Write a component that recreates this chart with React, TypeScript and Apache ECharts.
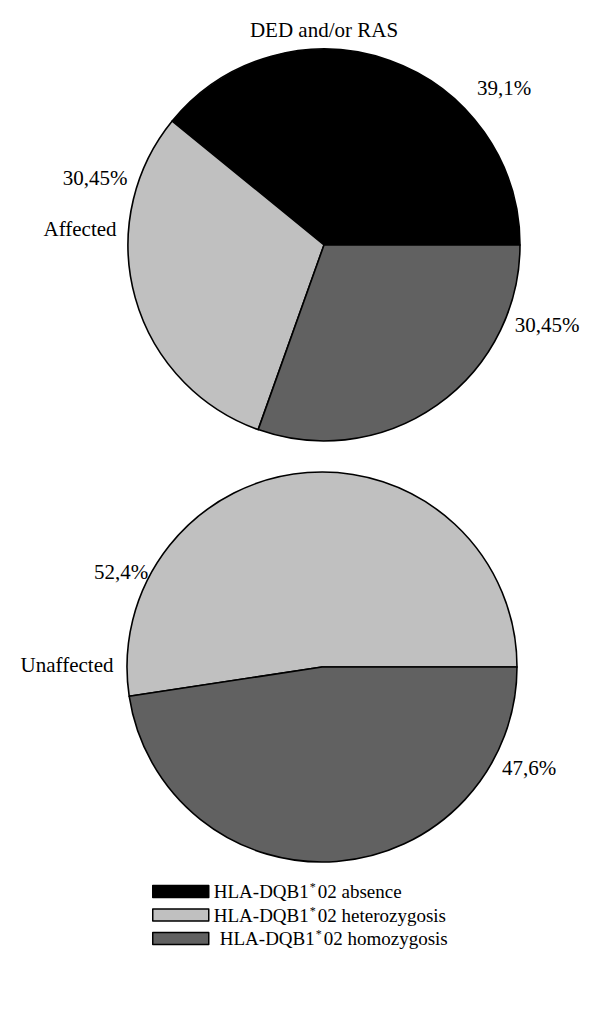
import React, { useEffect, useRef } from "react";
import * as echarts from "echarts";

const categories = [
  "HLA-DQB1*02 absence",
  "HLA-DQB1*02 heterozygosis",
  "HLA-DQB1*02 homozygosis",
];
const colors = ["#000000", "#c0c0c0", "#616161"];
const affectedValues = [39.1, 30.45, 30.45];
const unaffectedValues = [0, 52.4, 47.6];
const groupLabels = ["Affected", "Unaffected"];
const title = "DED and/or RAS";

const fmt = (v: number) => String(v).replace(".", ",") + "%";
const FONT = "'Liberation Serif', 'Times New Roman', serif";

export default function App() {
  const ref = useRef<HTMLDivElement>(null);
  useEffect(() => {
    if (!ref.current) return;
    const chart = echarts.init(ref.current, undefined, { renderer: "svg" });
    const mkData = (vals: number[]) =>
      vals
        .map((v, i) => ({ name: categories[i], value: v, itemStyle: { color: colors[i] } }))
        .filter((d) => d.value > 0);
    const textStyle = (text: string, x: number, y: number, align = "center") => ({
      type: "text",
      x,
      y,
      style: {
        text,
        font: `21px ${FONT}`,
        fill: "#000",
        textAlign: align,
        textVerticalAlign: "middle",
      },
      silent: true,
    });
    chart.setOption({
      animation: false,
      backgroundColor: "#fff",
      legend: {
        orient: "vertical",
        left: 152,
        top: 881,
        padding: 0,
        itemWidth: 56,
        itemHeight: 12,
        itemGap: 3.5,
        icon: "rect",
        data: categories,
        selectedMode: false,
        formatter: (name: string) => {
          const [a, b] = name.split("*");
          const pad = name.indexOf("homozygosis") >= 0 ? "{p|}" : "";
          return `${pad}{n|${a}}{s|*}{n|${b}}`;
        },
        textStyle: {
          rich: {
            p: { width: 6, lineHeight: 21 },
            n: { fontFamily: FONT, fontSize: 19, color: "#000", lineHeight: 21 },
            s: { fontFamily: FONT, fontSize: 12, color: "#000", verticalAlign: "top", lineHeight: 21, padding: [0, 2, 7, 1] },
          },
        },
        itemStyle: { borderColor: "#000", borderWidth: 1.5 },
      },
      series: [
        {
          type: "pie",
          center: [324, 245],
          radius: 196,
          startAngle: 0,
          clockwise: false,
          label: { show: false },
          labelLine: { show: false },
          itemStyle: { borderColor: "#000", borderWidth: 1.6 },
          emphasis: { disabled: true },
          data: mkData(affectedValues),
        },
        {
          type: "pie",
          center: [322, 667],
          radius: 195,
          startAngle: 0,
          clockwise: false,
          label: { show: false },
          labelLine: { show: false },
          itemStyle: { borderColor: "#000", borderWidth: 1.6 },
          emphasis: { disabled: true },
          data: mkData(unaffectedValues),
        },
      ],
      graphic: [
        textStyle(title, 324, 30),
        textStyle(fmt(affectedValues[0]), 504, 88),
        textStyle(fmt(affectedValues[1]), 95, 178),
        textStyle(groupLabels[0], 80, 229),
        textStyle(fmt(affectedValues[2]), 547, 325),
        textStyle(fmt(unaffectedValues[1]), 121, 572),
        textStyle(groupLabels[1], 67, 665),
        textStyle(fmt(unaffectedValues[2]), 529, 768),
      ],
    });
    return () => chart.dispose();
  }, []);
  return (
    <div
      ref={ref}
      style={{ position: "fixed", left: 0, top: 0, width: 600, height: 1009 }}
    />
  );
}
